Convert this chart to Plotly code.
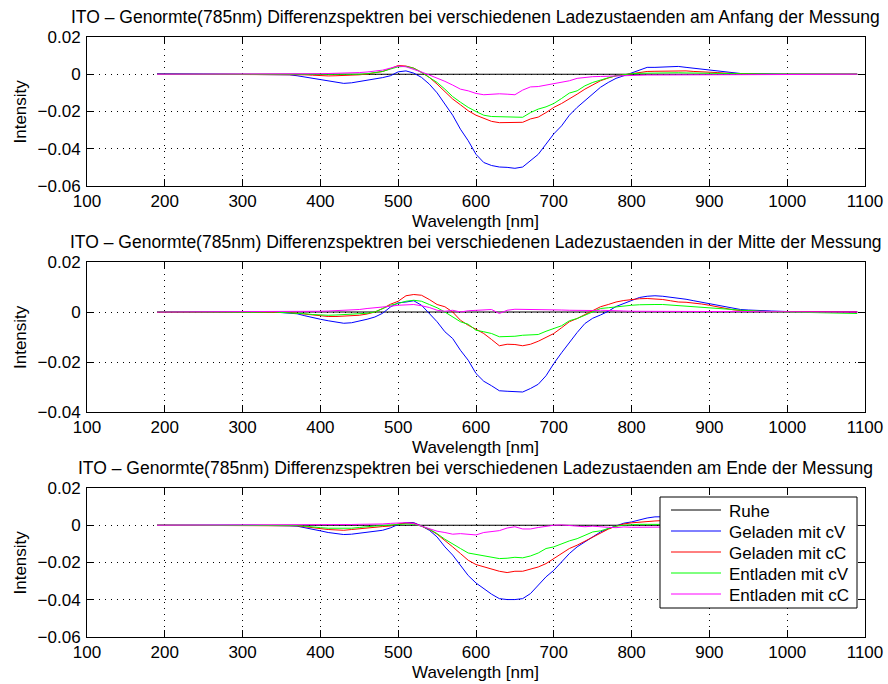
import plotly.graph_objects as go

# Sampling grid of the difference spectra (nm)
WAVELENGTH = [
    190, 220, 250, 280, 310, 340,
    360, 370, 380, 390, 400, 410, 420, 430, 440, 450,
    460, 470, 480, 490, 500, 510, 520, 530, 540, 550,
    560, 570, 580, 590, 600, 610, 620, 630, 640, 650,
    660, 670, 680, 690, 700, 710, 720, 730, 740, 750,
    760, 770, 780, 790, 800, 810, 820, 830, 840, 850,
    860, 870, 880, 890, 900, 910, 920, 930, 940, 950,
    960, 980, 1000, 1020, 1040, 1060, 1080, 1090,
]

# Reference state (Ruhe) is the zero line of every difference spectrum
RUHE_WL = [190, 1090]
RUHE = [0.0, 0.0]

# --- Anfang der Messung ---
ANFANG_GELADEN_CV = [
    0.0003, 0.0000, 0.0001, 0.0000, -0.0001, -0.0001,
    -0.0003, -0.0008, -0.0015, -0.0023, -0.0030, -0.0038, -0.0045, -0.0049, -0.0046, -0.0040,
    -0.0031, -0.0024, -0.0018, -0.0008, 0.0013, 0.0018, 0.0006, -0.0017, -0.0053, -0.0100,
    -0.0160, -0.0220, -0.0295, -0.0357, -0.0430, -0.0474, -0.0490, -0.0498, -0.0500, -0.0505,
    -0.0498, -0.0465, -0.0430, -0.0375, -0.0320, -0.0277, -0.0220, -0.0178, -0.0142, -0.0103,
    -0.0070, -0.0044, -0.0022, -0.0008, 0.0006, 0.0024, 0.0037, 0.0037, 0.0038, 0.0041,
    0.0042, 0.0037, 0.0032, 0.0028, 0.0024, 0.0018, 0.0012, 0.0007, 0.0004, 0.0003,
    0.0002, 0.0001, 0.0000, 0.0000, 0.0000, 0.0000, 0.0000, 0.0000,
]
ANFANG_GELADEN_CC = [
    0.0000, -0.0002, -0.0001, -0.0001, -0.0001, 0.0000,
    -0.0001, -0.0002, -0.0003, -0.0005, -0.0008, -0.0009, -0.0008, -0.0007, -0.0006, -0.0003,
    0.0001, 0.0008, 0.0015, 0.0030, 0.0047, 0.0044, 0.0033, 0.0010, -0.0017, -0.0053,
    -0.0094, -0.0133, -0.0164, -0.0196, -0.0220, -0.0236, -0.0253, -0.0260, -0.0260, -0.0259,
    -0.0258, -0.0240, -0.0230, -0.0206, -0.0178, -0.0157, -0.0133, -0.0107, -0.0080, -0.0056,
    -0.0035, -0.0020, -0.0008, -0.0003, 0.0004, 0.0010, 0.0015, 0.0016, 0.0017, 0.0018,
    0.0020, 0.0018, 0.0015, 0.0014, 0.0012, 0.0009, 0.0006, 0.0004, 0.0003, 0.0002,
    0.0001, 0.0000, 0.0000, 0.0000, 0.0000, 0.0000, 0.0000, 0.0000,
]
ANFANG_ENTLADEN_CV = [
    0.0000, -0.0001, -0.0001, 0.0000, 0.0000, 0.0000,
    0.0000, -0.0001, -0.0002, -0.0003, -0.0003, -0.0004, -0.0004, -0.0003, -0.0003, 0.0000,
    0.0003, 0.0008, 0.0015, 0.0028, 0.0040, 0.0042, 0.0032, 0.0010, -0.0015, -0.0044,
    -0.0080, -0.0120, -0.0150, -0.0178, -0.0200, -0.0220, -0.0227, -0.0228, -0.0228, -0.0232,
    -0.0231, -0.0206, -0.0187, -0.0175, -0.0157, -0.0130, -0.0101, -0.0089, -0.0062, -0.0044,
    -0.0030, -0.0019, -0.0008, -0.0001, 0.0003, 0.0005, 0.0006, 0.0007, 0.0008, 0.0008,
    0.0008, 0.0007, 0.0006, 0.0006, 0.0006, 0.0005, 0.0004, 0.0004, 0.0003, 0.0003,
    0.0002, 0.0001, 0.0000, 0.0000, 0.0000, 0.0000, 0.0000, 0.0000,
]
ANFANG_ENTLADEN_CC = [
    0.0000, 0.0000, 0.0001, 0.0000, -0.0001, 0.0000,
    0.0000, 0.0001, 0.0001, 0.0002, 0.0003, 0.0004, 0.0005, 0.0005, 0.0006, 0.0009,
    0.0012, 0.0016, 0.0022, 0.0033, 0.0044, 0.0040, 0.0028, 0.0012, -0.0004, -0.0020,
    -0.0038, -0.0058, -0.0080, -0.0089, -0.0103, -0.0110, -0.0107, -0.0105, -0.0107, -0.0110,
    -0.0085, -0.0068, -0.0066, -0.0058, -0.0049, -0.0044, -0.0035, -0.0022, -0.0017, -0.0013,
    -0.0012, -0.0010, -0.0008, -0.0006, -0.0006, -0.0005, -0.0004, -0.0004, -0.0004, -0.0003,
    -0.0003, -0.0002, -0.0002, -0.0001, -0.0001, -0.0001, 0.0000, 0.0000, 0.0000, 0.0000,
    0.0000, 0.0000, 0.0000, 0.0000, 0.0000, 0.0000, 0.0000, 0.0000,
]

# --- Mitte der Messung ---
MITTE_GELADEN_CV = [
    0.0001, 0.0000, -0.0001, 0.0000, 0.0000, 0.0000,
    -0.0003, -0.0007, -0.0015, -0.0023, -0.0029, -0.0035, -0.0040, -0.0045, -0.0043, -0.0037,
    -0.0029, -0.0020, -0.0005, 0.0020, 0.0037, 0.0040, 0.0045, 0.0027, -0.0006, -0.0039,
    -0.0079, -0.0106, -0.0153, -0.0193, -0.0246, -0.0277, -0.0295, -0.0315, -0.0317, -0.0320,
    -0.0320, -0.0306, -0.0289, -0.0255, -0.0206, -0.0163, -0.0122, -0.0082, -0.0046, -0.0025,
    -0.0012, 0.0003, 0.0022, 0.0035, 0.0048, 0.0058, 0.0063, 0.0065, 0.0063, 0.0060,
    0.0057, 0.0051, 0.0045, 0.0039, 0.0033, 0.0026, 0.0020, 0.0015, 0.0010, 0.0008,
    0.0006, 0.0004, 0.0002, 0.0001, 0.0000, 0.0000, 0.0000, 0.0000,
]
MITTE_GELADEN_CC = [
    0.0000, 0.0000, 0.0000, 0.0000, 0.0000, 0.0000,
    -0.0002, -0.0005, -0.0009, -0.0013, -0.0016, -0.0018, -0.0018, -0.0017, -0.0015, -0.0013,
    -0.0008, 0.0000, 0.0014, 0.0031, 0.0043, 0.0065, 0.0070, 0.0067, 0.0050, 0.0030,
    0.0021, 0.0000, -0.0033, -0.0053, -0.0069, -0.0086, -0.0110, -0.0135, -0.0129, -0.0130,
    -0.0135, -0.0129, -0.0117, -0.0103, -0.0086, -0.0063, -0.0039, -0.0026, -0.0010, 0.0003,
    0.0021, 0.0030, 0.0040, 0.0046, 0.0051, 0.0053, 0.0054, 0.0053, 0.0050, 0.0045,
    0.0040, 0.0039, 0.0037, 0.0032, 0.0027, 0.0020, 0.0014, 0.0009, 0.0006, 0.0004,
    0.0003, 0.0002, 0.0001, 0.0000, 0.0000, 0.0000, 0.0000, 0.0000,
]
MITTE_ENTLADEN_CV = [
    0.0001, 0.0000, 0.0000, -0.0001, -0.0001, 0.0000,
    -0.0002, -0.0004, -0.0007, -0.0010, -0.0012, -0.0013, -0.0012, -0.0010, -0.0010, -0.0009,
    -0.0005, 0.0000, 0.0014, 0.0027, 0.0034, 0.0043, 0.0047, 0.0043, 0.0030, 0.0017,
    0.0000, -0.0019, -0.0039, -0.0049, -0.0073, -0.0079, -0.0086, -0.0099, -0.0099, -0.0097,
    -0.0093, -0.0093, -0.0090, -0.0077, -0.0066, -0.0055, -0.0035, -0.0026, -0.0013, 0.0000,
    0.0014, 0.0017, 0.0021, 0.0025, 0.0027, 0.0029, 0.0031, 0.0030, 0.0030, 0.0028,
    0.0027, 0.0024, 0.0021, 0.0019, 0.0017, 0.0015, 0.0014, 0.0010, 0.0007, 0.0005,
    0.0003, 0.0001, 0.0000, -0.0001, -0.0002, -0.0004, -0.0005, -0.0006,
]
MITTE_ENTLADEN_CC = [
    0.0000, 0.0000, 0.0000, 0.0000, 0.0000, 0.0001,
    0.0001, 0.0001, 0.0002, 0.0002, 0.0003, 0.0004, 0.0005, 0.0006, 0.0007, 0.0010,
    0.0014, 0.0016, 0.0019, 0.0023, 0.0027, 0.0030, 0.0030, 0.0025, 0.0018, 0.0007,
    0.0003, 0.0007, 0.0000, 0.0005, 0.0007, 0.0010, 0.0010, -0.0006, 0.0007, 0.0011,
    0.0011, 0.0010, 0.0010, 0.0009, 0.0010, 0.0008, 0.0007, 0.0006, 0.0005, 0.0006,
    0.0007, 0.0005, 0.0005, 0.0004, 0.0003, 0.0003, 0.0002, 0.0002, 0.0002, 0.0002,
    0.0002, 0.0002, 0.0001, 0.0001, 0.0001, 0.0001, 0.0001, 0.0000, 0.0000, 0.0000,
    0.0000, 0.0000, 0.0000, 0.0000, 0.0000, 0.0000, 0.0000, 0.0000,
]

# --- Ende der Messung ---
ENDE_GELADEN_CV = [
    0.0000, -0.0001, -0.0001, 0.0000, 0.0000, 0.0000,
    -0.0003, -0.0005, -0.0012, -0.0021, -0.0030, -0.0039, -0.0045, -0.0050, -0.0048, -0.0042,
    -0.0036, -0.0032, -0.0027, -0.0014, 0.0004, 0.0014, 0.0014, -0.0004, -0.0027, -0.0063,
    -0.0116, -0.0160, -0.0215, -0.0270, -0.0310, -0.0340, -0.0370, -0.0394, -0.0399, -0.0399,
    -0.0394, -0.0367, -0.0322, -0.0277, -0.0242, -0.0197, -0.0152, -0.0116, -0.0089, -0.0063,
    -0.0036, -0.0018, -0.0004, 0.0011, 0.0018, 0.0029, 0.0039, 0.0045, 0.0047, 0.0046,
    0.0045, 0.0042, 0.0040, 0.0035, 0.0030, 0.0025, 0.0020, 0.0015, 0.0010, 0.0007,
    0.0005, 0.0002, 0.0001, 0.0000, 0.0000, 0.0000, 0.0000, 0.0000,
]
ENDE_GELADEN_CC = [
    0.0000, 0.0000, -0.0001, 0.0000, 0.0000, 0.0000,
    -0.0001, -0.0003, -0.0008, -0.0014, -0.0019, -0.0023, -0.0025, -0.0027, -0.0023, -0.0018,
    -0.0013, -0.0010, -0.0007, -0.0004, 0.0007, 0.0011, 0.0011, -0.0005, -0.0023, -0.0048,
    -0.0080, -0.0116, -0.0152, -0.0188, -0.0211, -0.0224, -0.0236, -0.0247, -0.0254, -0.0247,
    -0.0247, -0.0236, -0.0224, -0.0206, -0.0179, -0.0152, -0.0125, -0.0107, -0.0086, -0.0063,
    -0.0041, -0.0021, -0.0005, 0.0007, 0.0013, 0.0017, 0.0021, 0.0023, 0.0025, 0.0025,
    0.0024, 0.0022, 0.0020, 0.0017, 0.0015, 0.0012, 0.0010, 0.0007, 0.0005, 0.0003,
    0.0002, 0.0001, 0.0000, 0.0000, 0.0000, 0.0000, 0.0000, 0.0000,
]
ENDE_ENTLADEN_CV = [
    0.0000, 0.0000, 0.0000, 0.0000, 0.0000, 0.0000,
    -0.0001, -0.0002, -0.0005, -0.0011, -0.0013, -0.0016, -0.0017, -0.0018, -0.0016, -0.0012,
    -0.0007, -0.0004, -0.0002, 0.0001, 0.0005, 0.0007, 0.0005, -0.0005, -0.0021, -0.0045,
    -0.0075, -0.0102, -0.0125, -0.0149, -0.0157, -0.0165, -0.0174, -0.0179, -0.0177, -0.0172,
    -0.0175, -0.0165, -0.0149, -0.0125, -0.0116, -0.0098, -0.0084, -0.0072, -0.0054, -0.0036,
    -0.0030, -0.0018, -0.0005, 0.0000, 0.0004, 0.0005, 0.0005, 0.0005, 0.0005, 0.0005,
    0.0005, 0.0005, 0.0004, 0.0004, 0.0004, 0.0003, 0.0003, 0.0002, 0.0002, 0.0002,
    0.0001, 0.0001, 0.0000, 0.0000, 0.0000, 0.0000, 0.0000, 0.0000,
]
ENDE_ENTLADEN_CC = [
    0.0000, 0.0000, 0.0000, 0.0001, 0.0000, 0.0000,
    0.0000, 0.0000, 0.0000, 0.0000, 0.0000, 0.0001, 0.0002, 0.0003, 0.0004, 0.0005,
    0.0005, 0.0006, 0.0007, 0.0010, 0.0013, 0.0014, 0.0009, -0.0005, -0.0018, -0.0032,
    -0.0039, -0.0048, -0.0045, -0.0048, -0.0052, -0.0039, -0.0032, -0.0029, -0.0015, -0.0008,
    -0.0020, -0.0020, -0.0012, -0.0005, 0.0000, 0.0002, 0.0000, -0.0004, -0.0008, -0.0005,
    -0.0009, -0.0011, -0.0013, -0.0009, -0.0011, -0.0011, -0.0011, -0.0012, -0.0013, -0.0012,
    -0.0010, -0.0009, -0.0008, -0.0008, -0.0008, -0.0007, -0.0006, -0.0005, -0.0004, -0.0004,
    -0.0003, -0.0002, -0.0002, -0.0001, 0.0000, 0.0000, 0.0000, 0.0000,
]

LEGEND_NAMES = ["Ruhe", "Geladen mit cV", "Geladen mit cC", "Entladen mit cV", "Entladen mit cC"]
LEGEND_COLORS = ["#000000", "#0000FF", "#FF0000", "#00FF00", "#FF00FF"]
SERIES_NAMES = LEGEND_NAMES[1:]
SERIES_COLORS = LEGEND_COLORS[1:]

PANEL_TITLES = [
    "ITO \u2013 Genormte(785nm) Differenzspektren bei verschiedenen Ladezustaenden am Anfang der Messung",
    "ITO \u2013 Genormte(785nm) Differenzspektren bei verschiedenen Ladezustaenden in der Mitte der Messung",
    "ITO \u2013 Genormte(785nm) Differenzspektren bei verschiedenen Ladezustaenden am Ende der Messung",
]
PANEL_DATA = [
    [ANFANG_GELADEN_CV, ANFANG_GELADEN_CC, ANFANG_ENTLADEN_CV, ANFANG_ENTLADEN_CC],
    [MITTE_GELADEN_CV, MITTE_GELADEN_CC, MITTE_ENTLADEN_CV, MITTE_ENTLADEN_CC],
    [ENDE_GELADEN_CV, ENDE_GELADEN_CC, ENDE_ENTLADEN_CV, ENDE_ENTLADEN_CC],
]
Y_RANGES = [[-0.06, 0.02], [-0.04, 0.02], [-0.06, 0.02]]
X_RANGE = [100, 1100]
X_TICKS = [100, 200, 300, 400, 500, 600, 700, 800, 900, 1000, 1100]

# Figure geometry (pixels)
W, H = 888, 684
AX_LEFT, AX_RIGHT = 87, 865
PANEL_PX = [(37, 186), (262, 412), (488, 637)]  # (top, bottom)

FONT = "Liberation Sans, Arial, Helvetica, sans-serif"
FS = 17
FS_TITLE = 17.5


def px_x(px):
    return px / W


def px_y(py):
    return 1 - py / H


fig = go.Figure()

for p, series in enumerate(PANEL_DATA):
    suffix = "" if p == 0 else str(p + 1)
    xref, yref = "x" + suffix, "y" + suffix
    fig.add_trace(go.Scatter(
        x=RUHE_WL, y=RUHE, mode="lines", name="Ruhe",
        line=dict(color="#000000", width=1),
        xaxis=xref, yaxis=yref, showlegend=False, hoverinfo="skip",
    ))
    for name, color, values in zip(SERIES_NAMES, SERIES_COLORS, series):
        fig.add_trace(go.Scatter(
            x=WAVELENGTH, y=values, mode="lines", name=name,
            line=dict(color=color, width=1),
            xaxis=xref, yaxis=yref, showlegend=False,
        ))

axis_style = dict(
    showline=True, linecolor="#000000", linewidth=1, mirror="allticks",
    ticks="inside", ticklen=7, tickwidth=1, tickcolor="#000000",
    showgrid=True, gridcolor="#000000", gridwidth=1, griddash="1px,5px",
    zeroline=False, tickfont=dict(family=FONT, size=FS, color="#000000"),
    automargin=False,
)

annotations = []
shapes = []
layout = {}
x_dom = [px_x(AX_LEFT), px_x(AX_RIGHT)]
cx = px_x((AX_LEFT + AX_RIGHT) / 2)
for p, (top, bottom) in enumerate(PANEL_PX):
    suffix = "" if p == 0 else str(p + 1)
    layout["xaxis" + suffix] = dict(
        axis_style, domain=x_dom, range=X_RANGE, tickvals=X_TICKS,
        anchor="y" + suffix, ticklabelstandoff=0,
    )
    layout["yaxis" + suffix] = dict(
        axis_style, domain=[px_y(bottom), px_y(top)], range=Y_RANGES[p],
        dtick=0.02, tick0=0, anchor="x" + suffix, ticklabelstandoff=2,
    )
    annotations.append(dict(
        text=PANEL_TITLES[p], x=cx, y=px_y(top - 20), xref="paper", yref="paper",
        xanchor="center", yanchor="middle", showarrow=False,
        font=dict(family=FONT, size=FS_TITLE, color="#000000"),
    ))
    annotations.append(dict(
        text="Wavelength [nm]", x=cx, y=px_y(bottom + 35), xref="paper", yref="paper",
        xanchor="center", yanchor="middle", showarrow=False,
        font=dict(family=FONT, size=FS, color="#000000"),
    ))
    annotations.append(dict(
        text="Intensity", x=px_x(20), y=px_y((top + bottom) / 2), xref="paper", yref="paper",
        xanchor="center", yanchor="middle", showarrow=False, textangle=-90,
        font=dict(family=FONT, size=FS, color="#000000"),
    ))

# Legend box inside the bottom panel
LEG_LEFT, LEG_RIGHT, LEG_TOP, LEG_BOTTOM = 660, 857, 497, 608
LEG_ROW0, LEG_ROW_STEP = 510, 21
LEG_LINE_X0, LEG_LINE_X1, LEG_TEXT_X = 671, 721, 727
shapes.append(dict(
    type="rect", xref="paper", yref="paper", layer="above",
    x0=px_x(LEG_LEFT), x1=px_x(LEG_RIGHT), y0=px_y(LEG_BOTTOM), y1=px_y(LEG_TOP),
    fillcolor="#FFFFFF", line=dict(color="#000000", width=1),
))
for i, (name, color) in enumerate(zip(LEGEND_NAMES, LEGEND_COLORS)):
    row_y = LEG_ROW0 + i * LEG_ROW_STEP
    shapes.append(dict(
        type="line", xref="paper", yref="paper", layer="above",
        x0=px_x(LEG_LINE_X0), x1=px_x(LEG_LINE_X1), y0=px_y(row_y), y1=px_y(row_y),
        line=dict(color=color, width=1),
    ))
    annotations.append(dict(
        text=name, x=px_x(LEG_TEXT_X), y=px_y(row_y + 1), xref="paper", yref="paper",
        xanchor="left", yanchor="middle", showarrow=False,
        font=dict(family=FONT, size=FS, color="#000000"),
    ))

fig.update_layout(
    width=W, height=H,
    margin=dict(l=0, r=0, t=0, b=0),
    paper_bgcolor="#FFFFFF", plot_bgcolor="#FFFFFF",
    font=dict(family=FONT, size=FS, color="#000000"),
    showlegend=False,
    annotations=annotations,
    shapes=shapes,
    **layout,
)

fig.write_html("out.html")
